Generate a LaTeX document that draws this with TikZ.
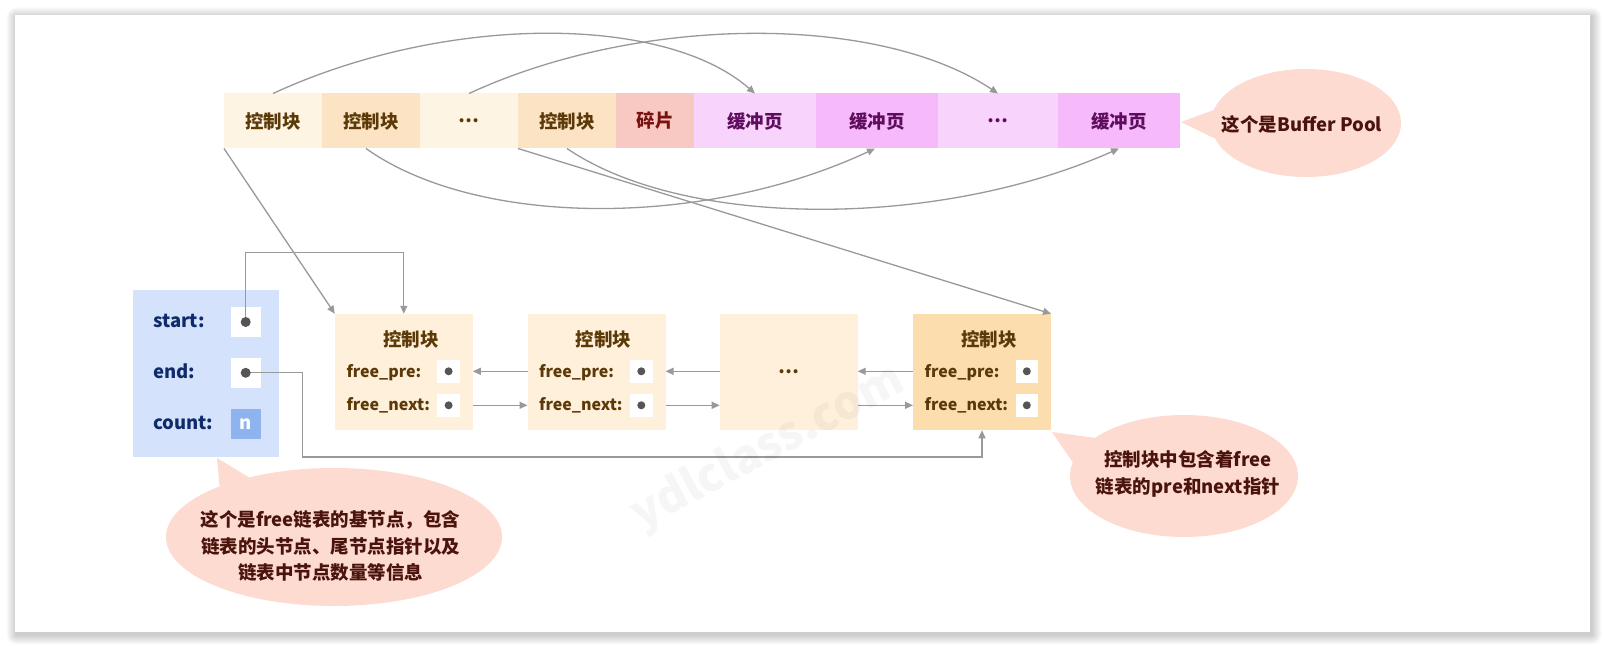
\documentclass[tikz,border=0pt]{standalone}
\usepackage{fontspec}
\setmainfont{Noto Sans CJK SC}
\usetikzlibrary{arrows.meta,calc}

\definecolor{lineg}{HTML}{999999}
\definecolor{cbLight}{HTML}{FEF4E4}
\definecolor{cbDark}{HTML}{FBE3C4}
\definecolor{cbText}{HTML}{5C3A08}
\definecolor{fragFill}{HTML}{F8C8C2}
\definecolor{fragText}{HTML}{7A1212}
\definecolor{bpLight}{HTML}{F8D3FB}
\definecolor{bpDark}{HTML}{F6B9FA}
\definecolor{bpText}{HTML}{5E0C5E}
\definecolor{listLight}{HTML}{FEF0DA}
\definecolor{listDark}{HTML}{FCDDAE}
\definecolor{baseFill}{HTML}{D4E2FB}
\definecolor{baseText}{HTML}{0F2B6B}
\definecolor{nFill}{HTML}{8FB3EF}
\definecolor{dotc}{HTML}{555555}
\definecolor{bubbleFill}{HTML}{FDDBD0}
\definecolor{bubbleText}{HTML}{4A140C}

\newcommand\cellfont{\fontsize{18.5pt}{22pt}\selectfont\bfseries}
\newcommand\fieldfont{\fontsize{16pt}{19pt}\selectfont\bfseries}
\newcommand\bubfont{\fontsize{18.5pt}{26.5pt}\selectfont\bfseries}

\tikzset{
  topcell/.style={minimum height=55pt, inner sep=0pt, outer sep=0pt, font=\cellfont},
  conn/.style={draw=lineg, line width=1.3pt, -{Triangle[length=8pt,width=7pt]}},
  lblock/.style={minimum width=138pt, minimum height=116.5pt, inner sep=0pt, outer sep=0pt},
  wbox/.style={fill=white, inner sep=0pt, outer sep=0pt},
  ptdot/.style={circle, fill=dotc, inner sep=0pt, minimum size=8pt},
  fieldlbl/.style={anchor=base west, inner sep=0pt, font=\fieldfont, text=cbText},
  baselbl/.style={anchor=base west, inner sep=0pt, font=\cellfont, text=baseText},
  blocktitle/.style={inner sep=0pt, font=\cellfont, text=cbText},
  bubtext/.style={inner sep=0pt, align=center, font=\bubfont, text=bubbleText},
}

\begin{document}
\begin{tikzpicture}[x=1pt,y=-1pt]
\useasboundingbox (0,0) rectangle (1605,647);
\fill[white] (0,0) rectangle (1605,647);

% soft drop shadow behind the sheet
\foreach \i in {1,...,10}
  \fill[black,opacity=0.02,rounded corners=\i pt]
    (15-\i+1.5,15-\i+2.5) rectangle (1590+\i+1.5,632+\i+2.5);
\fill[white] (15,15) rectangle (1590,632);

% ---------- Buffer Pool row ----------
\node[topcell, minimum width=98pt,  fill=cbLight,  text=cbText]   (tcb1)   at (273,121)  {控制块};
\node[topcell, minimum width=98pt,  fill=cbDark,   text=cbText]   (tcb2)   at (371,121)  {控制块};
\node[topcell, minimum width=98pt,  fill=cbLight,  text=cbText]   (tdots)  at (469,121)  {…};
\node[topcell, minimum width=98pt,  fill=cbDark,   text=cbText]   (tcb3)   at (567,121)  {控制块};
\node[topcell, minimum width=78pt,  fill=fragFill, text=fragText] (tfrag)  at (655,121)  {碎片};
\node[topcell, minimum width=122pt, fill=bpLight,  text=bpText]   (tbp1)   at (755,121)  {缓冲页};
\node[topcell, minimum width=122pt, fill=bpDark,   text=bpText]   (tbp2)   at (877,121)  {缓冲页};
\node[topcell, minimum width=120pt, fill=bpLight,  text=bpText]   (tbdots) at (998,121)  {…};
\node[topcell, minimum width=122pt, fill=bpDark,   text=bpText]   (tbp3)   at (1119,121) {缓冲页};

% ---------- free list base node ----------
\node[minimum width=146pt, minimum height=166.5pt, inner sep=0pt, fill=baseFill] (base) at (206,373.25) {};
\node[baselbl] (lstart) at (153,327.5) {start:};
\node[baselbl] (lend)   at (153,378.3) {end:};
\node[baselbl] (lcount) at (153,429.3) {count:};
\node[wbox, minimum width=30pt, minimum height=29.5pt] (sbox) at (245.7,322) {};
\node[wbox, minimum width=30pt, minimum height=29.5pt] (ebox) at (245.7,372.8) {};
\node[wbox, fill=nFill, minimum width=30pt, minimum height=29.5pt, font=\cellfont, text=white] (nbox) at (245.7,423.8) {n};

% ---------- control blocks of the free list ----------
\node[lblock, fill=listLight] (L1) at (403.8,372) {};
\node[lblock, fill=listLight] (L2) at (596.5,372) {};
\node[lblock, fill=listLight, font=\cellfont, text=cbText] (L3) at (788.7,372) {…};
\node[lblock, fill=listDark]  (L4) at (982,372) {};

\foreach \b in {L1,L2,L4}{
  \node[blocktitle] (\b t) at ($(\b.north)+(7,25.5)$) {控制块};
  \node[fieldlbl] (\b pl) at ($(\b.west)+(11.5,5.3)$) {free\_pre:};
  \node[fieldlbl] (\b nl) at ($(\b.west)+(11.5,38.3)$) {free\_next:};
  \node[wbox, minimum width=22.4pt, minimum height=22.7pt] (\b p) at ($(\b.west)+(113.8,-0.7)$) {};
  \node[wbox, minimum width=22.4pt, minimum height=22.7pt] (\b n) at ($(\b.west)+(113.8,33.3)$) {};
  \node[ptdot] (\b pd) at (\b p.center) {};
  \node[ptdot] (\b nd) at (\b n.center) {};
}

% pre / next links
\draw[conn] (L2.west |- L2p) -- (L1.east |- L1p);
\draw[conn] (L1.east |- L1n) -- (L2.west |- L2n);
\draw[conn] (L3.west |- L2p) -- (L2.east |- L2p);
\draw[conn] (L2.east |- L2n) -- (L3.west |- L2n);
\draw[conn] (L4.west |- L4p) -- (L3.east |- L4p);
\draw[conn] (L3.east |- L4n) -- (L4.west |- L4n);

% head and tail pointers
\draw[conn] (sbox.center) -- ++(0,-69.3) -| (L1.north);
\coordinate (ebend) at (302.3,457);
\draw[conn] (ebox.center) -| (ebend) -| (L4.south);
\node[ptdot, minimum size=10pt] (sdot) at (sbox.center) {};
\node[ptdot, minimum size=10pt] (edot) at (ebox.center) {};

% control blocks -> buffer pages
\draw[conn] (tcb1.north) .. controls (445,14) and (664,14) .. (tbp1.north);
\draw[conn] (tdots.north) .. controls (641,14) and (879,14) .. (tbdots.north);
\draw[conn] ([xshift=-5pt]tcb2.south) .. controls (478,228) and (705,228) .. ([xshift=-2pt]tbp2.south);
\draw[conn] (tcb3.south) .. controls (685,229) and (938,229) .. (tbp3.south);

% control blocks in the pool -> list entries
\draw[conn] (tcb1.south west) -- (L1.north west);
\draw[conn] (tcb3.south west) -- (L4.north east);

% ---------- callouts ----------
\coordinate (bpc) at (1306,123);
\fill[bubbleFill] (1181,122) -- (1222,107) -- (1222,142) -- cycle;
\fill[bubbleFill] (bpc) ellipse (95pt and 54pt);
\node[bubtext] (bptext) at (1302,124) {这个是Buffer Pool};

\coordinate (basec) at (334,537);
\fill[bubbleFill] (217,458) -- (220,492) -- (255,481) -- cycle;
\fill[bubbleFill] (basec) ellipse (168pt and 69pt);
\node[bubtext] (basetext) at (330.5,546) {这个是free链表的基节点，包含\\链表的头节点、尾节点指针以及\\链表中节点数量等信息};

\coordinate (cbc) at (1184,476);
\fill[bubbleFill] (1052,432) -- (1078,470) -- (1110,440) -- cycle;
\fill[bubbleFill] (cbc) ellipse (114pt and 61pt);
\node[bubtext] (cbtext) at (1188,474) {控制块中包含着free\\链表的pre和next指针};

% faint site mark laid over the drawing
\node[rotate=28, text=black, opacity=0.035, font=\fontsize{46pt}{46pt}\selectfont\bfseries] (mark) at (768,448) {ydlclass.com};
\end{tikzpicture}
\end{document}
